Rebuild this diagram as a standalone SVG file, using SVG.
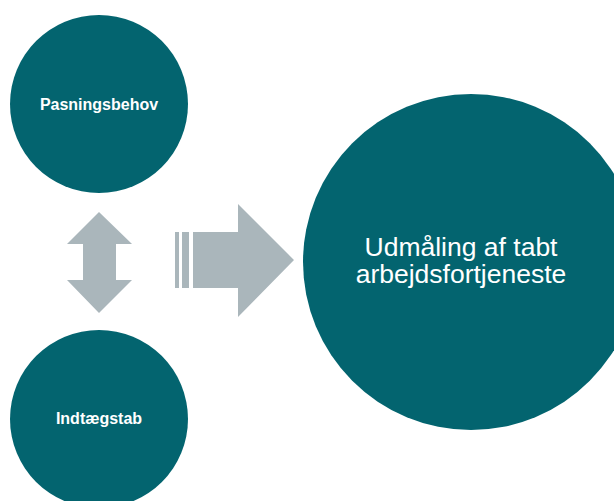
<svg xmlns="http://www.w3.org/2000/svg" width="614" height="501" viewBox="0 0 614 501">
<style>
.node{fill:#03646F}
.arrow{fill:#AAB6BB}
.small{font-family:"Liberation Sans",Arial,sans-serif;font-weight:bold;font-size:16px;fill:#FFFFFF;text-anchor:middle}
.big{font-family:"Liberation Sans",Arial,sans-serif;font-size:26.5px;fill:#FFFFFF;text-anchor:middle}
</style>
<rect width="614" height="501" fill="#FFFFFF"/>
<g id="connectors">
<polygon class="arrow" points="99,212 132,244 116,244 116,280 132,280 99,313 67,280 83,280 83,244 67,244"/>
<rect class="arrow" x="175" y="232" width="4" height="56"/>
<rect class="arrow" x="182" y="232" width="7" height="56"/>
<polygon class="arrow" points="193,232 238,232 238,204 294,260 238,317 238,288 193,288"/>
</g>
<g id="pasningsbehov">
<circle class="node" cx="99" cy="104" r="89"/>
<text class="small" x="99" y="110">Pasningsbehov</text>
</g>
<g id="indtaegstab">
<circle class="node" cx="99" cy="419" r="89"/>
<text class="small" x="99" y="424">Indtægstab</text>
</g>
<g id="udmaaling">
<circle class="node" cx="471" cy="262" r="168"/>
<text class="big" x="461" y="256">Udmåling af tabt</text>
<text class="big" x="461" y="283">arbejdsfortjeneste</text>
</g>
</svg>
